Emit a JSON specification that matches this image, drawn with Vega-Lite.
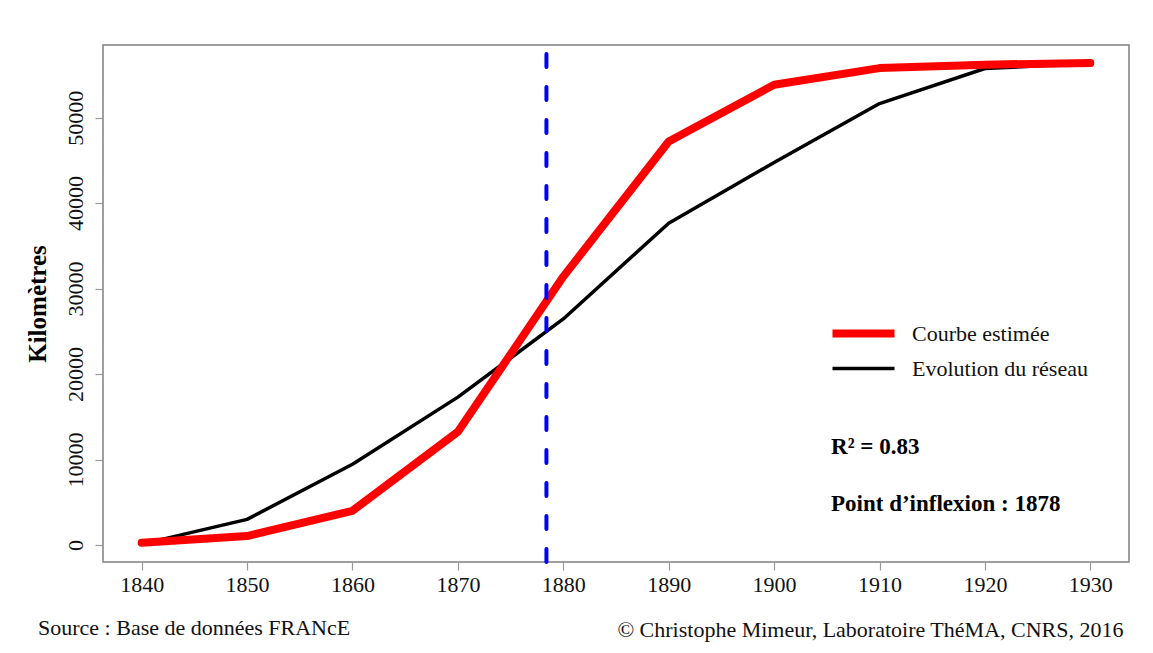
{
  "$schema": "https://vega.github.io/schema/vega-lite/v6.json",
  "autosize": "none",
  "width": 1026,
  "height": 517,
  "padding": {"left": 103, "top": 45, "right": 24, "bottom": 91},
  "background": "white",
  "title": {
    "text": "Source : Base de données FRANcE",
    "orient": "bottom",
    "anchor": "start",
    "frame": "group",
    "dx": -65,
    "offset": -22,
    "font": "Liberation Serif",
    "fontSize": 22,
    "fontWeight": "normal",
    "color": "#111"
  },
  "datasets": {
    "series": [
      {"year": 1840, "km": 100, "serie": "Evolution du réseau"},
      {"year": 1850, "km": 3000, "serie": "Evolution du réseau"},
      {"year": 1860, "km": 9450, "serie": "Evolution du réseau"},
      {"year": 1870, "km": 17300, "serie": "Evolution du réseau"},
      {"year": 1880, "km": 26450, "serie": "Evolution du réseau"},
      {"year": 1890, "km": 37650, "serie": "Evolution du réseau"},
      {"year": 1900, "km": 44750, "serie": "Evolution du réseau"},
      {"year": 1910, "km": 51650, "serie": "Evolution du réseau"},
      {"year": 1920, "km": 55750, "serie": "Evolution du réseau"},
      {"year": 1930, "km": 56350, "serie": "Evolution du réseau"},
      {"year": 1840, "km": 250, "serie": "Courbe estimée"},
      {"year": 1850, "km": 1050, "serie": "Courbe estimée"},
      {"year": 1860, "km": 4000, "serie": "Courbe estimée"},
      {"year": 1870, "km": 13250, "serie": "Courbe estimée"},
      {"year": 1880, "km": 31400, "serie": "Courbe estimée"},
      {"year": 1890, "km": 47200, "serie": "Courbe estimée"},
      {"year": 1900, "km": 53850, "serie": "Courbe estimée"},
      {"year": 1910, "km": 55800, "serie": "Courbe estimée"},
      {"year": 1920, "km": 56200, "serie": "Courbe estimée"},
      {"year": 1930, "km": 56400, "serie": "Courbe estimée"}
    ],
    "inflexion": [{"year": 1878.4}],
    "notes": [
      {"year": 1905.4, "km": 11500, "label": "R² = 0.83"},
      {"year": 1905.4, "km": 4850, "label": "Point d’inflexion : 1878"}
    ]
  },
  "encoding": {
    "x": {
      "field": "year",
      "type": "quantitative",
      "scale": {"domain": [1836.33, 1933.67], "nice": false, "zero": false},
      "axis": {
        "values": [1840, 1850, 1860, 1870, 1880, 1890, 1900, 1910, 1920, 1930],
        "format": "d",
        "labelFontSize": 22,
        "labelFont": "Liberation Serif",
        "labelColor": "#111",
        "labelPadding": 4,
        "tickColor": "#999",
        "tickSize": 8,
        "tickWidth": 1.2,
        "title": "© Christophe Mimeur, Laboratoire ThéMA, CNRS, 2016",
        "titleFont": "Liberation Serif",
        "titleFontSize": 22,
        "titleFontWeight": "normal",
        "titleColor": "#111",
        "titleAlign": "right",
        "titleAnchor": "end",
        "titleBaseline": "middle",
        "titleX": 1020,
        "titleY": 67
      }
    },
    "y": {
      "field": "km",
      "type": "quantitative",
      "scale": {"domain": [-1990, 58500], "nice": false, "zero": false},
      "axis": {
        "values": [0, 10000, 20000, 30000, 40000, 50000],
        "format": "d",
        "labelAngle": 270,
        "labelAlign": "center",
        "labelBaseline": "bottom",
        "labelFontSize": 22,
        "labelFont": "Liberation Serif",
        "labelColor": "#111",
        "labelPadding": 8,
        "tickColor": "#999",
        "tickSize": 8,
        "tickWidth": 1.2,
        "title": "Kilomètres",
        "titleFont": "Liberation Serif",
        "titleFontSize": 25,
        "titleFontWeight": "bold",
        "titleColor": "#000",
        "titlePadding": 14
      }
    }
  },
  "layer": [
    {
      "data": {"name": "series"},
      "transform": [{"filter": "datum.serie == 'Evolution du réseau'"}],
      "mark": {"type": "line", "strokeCap": "round", "strokeJoin": "round"},
      "encoding": {
        "color": {
          "field": "serie",
          "type": "nominal",
          "scale": {"domain": ["Courbe estimée", "Evolution du réseau"], "range": ["#FF0000", "#000000"]},
          "legend": {
            "title": null,
            "orient": "none",
            "legendX": 741,
            "legendY": 269,
            "symbolType": "M-2,0H2",
            "symbolSize": 961,
            "labelFont": "Liberation Serif",
            "labelFontSize": 22,
            "labelColor": "#111",
            "labelOffset": 29,
            "labelLimit": 400,
            "rowPadding": 1,
            "padding": 0
          }
        },
        "strokeWidth": {
          "field": "serie",
          "type": "nominal",
          "scale": {"domain": ["Courbe estimée", "Evolution du réseau"], "range": [8, 3.5]},
          "legend": {
            "title": null,
            "orient": "none",
            "legendX": 741,
            "legendY": 269,
            "symbolType": "M-2,0H2",
            "symbolSize": 961,
            "labelFont": "Liberation Serif",
            "labelFontSize": 22,
            "labelColor": "#111",
            "labelOffset": 29,
            "labelLimit": 400,
            "rowPadding": 1,
            "padding": 0
          }
        }
      }
    },
    {
      "data": {"name": "series"},
      "transform": [{"filter": "datum.serie == 'Courbe estimée'"}],
      "mark": {"type": "line", "strokeCap": "round", "strokeJoin": "round"},
      "encoding": {
        "color": {"field": "serie", "type": "nominal"},
        "strokeWidth": {"field": "serie", "type": "nominal"}
      }
    },
    {
      "data": {"name": "inflexion"},
      "mark": {"type": "rule", "color": "#0000FF", "strokeWidth": 4, "strokeDash": [13, 20], "strokeDashOffset": 24, "strokeCap": "round"},
      "encoding": {
        "y": null
      }
    },
    {
      "data": {"name": "notes"},
      "mark": {"type": "text", "align": "left", "baseline": "middle", "font": "Liberation Serif", "fontSize": 23, "fontWeight": "bold", "color": "#000"},
      "encoding": {
        "text": {"field": "label", "type": "nominal"}
      }
    }
  ],
  "config": {
    "view": {"stroke": "#808080", "strokeWidth": 1.5},
    "font": "Liberation Serif",
    "axis": {"grid": false, "domain": false}
  }
}
